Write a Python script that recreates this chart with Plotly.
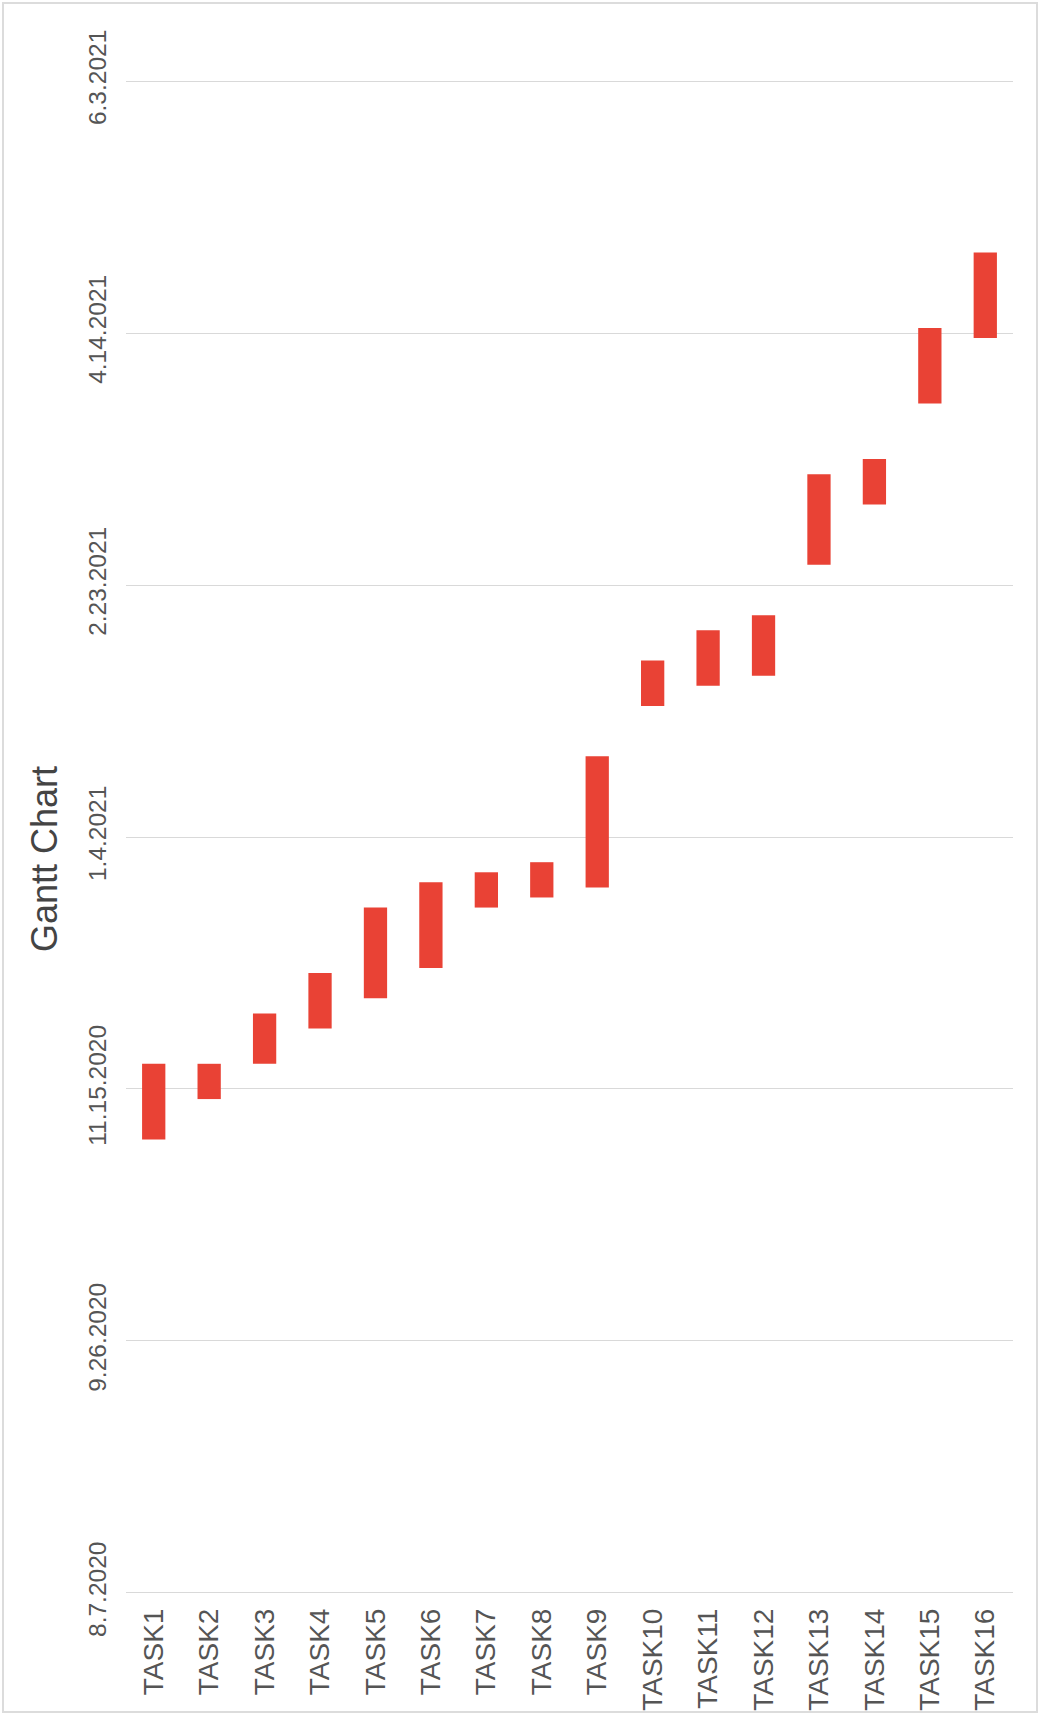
import pandas as pd
import plotly.graph_objects as go

tasks = ["TASK%d" % i for i in range(1, 17)]
start_dates = ["2020-11-05", "2020-11-13", "2020-11-20", "2020-11-27", "2020-12-03", "2020-12-09",
               "2020-12-21", "2020-12-23", "2020-12-25", "2021-01-30", "2021-02-03", "2021-02-05",
               "2021-02-27", "2021-03-11", "2021-03-31", "2021-04-13"]
end_dates = ["2020-11-20", "2020-11-20", "2020-11-30", "2020-12-08", "2020-12-21", "2020-12-26",
             "2020-12-28", "2020-12-30", "2021-01-20", "2021-02-08", "2021-02-14", "2021-02-17",
             "2021-03-17", "2021-03-20", "2021-04-15", "2021-04-30"]
tick_dates = ["2020-08-07", "2020-09-26", "2020-11-15", "2021-01-04", "2021-02-23", "2021-04-14", "2021-06-03"]
tick_labels = ["8.7.2020", "9.26.2020", "11.15.2020", "1.4.2021", "2.23.2021", "4.14.2021", "6.3.2021"]
title_text = "Gantt Chart"

s = pd.to_datetime(start_dates)
e = pd.to_datetime(end_dates)
dur_ms = [(b - a).total_seconds() * 1000 for a, b in zip(s, e)]

W, H = 1040, 1716
L, R, T, B = 126, 27, 76, 118
pw, ph = W - L - R, H - T - B

def px_x(X):
    return (X - L) / pw

def px_y(Y):
    return (H - B - Y) / ph

fig = go.Figure()
fig.add_trace(go.Bar(
    x=tasks, y=dur_ms, base=start_dates, width=0.42,
    marker=dict(color="#e94235", line=dict(width=0)),
    showlegend=False,
))

fig.update_layout(
    width=W, height=H,
    margin=dict(l=L, r=R, t=T, b=B, pad=0, autoexpand=False),
    paper_bgcolor="white", plot_bgcolor="white",
    font=dict(family="Liberation Sans, Arial, sans-serif", color="#555"),
    xaxis=dict(
        type="category", tickangle=-90, showgrid=False, zeroline=False,
        showline=False, ticks="", tickfont=dict(size=28, color="#555"),
        ticklabelstandoff=4, automargin=False,
    ),
    yaxis=dict(
        type="date", range=["2020-08-06", "2021-06-04"],
        tickmode="array", tickvals=tick_dates, ticktext=tick_labels,
        tickangle=-90, showgrid=True, gridcolor="#d9d9d9", gridwidth=1,
        zeroline=False, showline=False, ticks="",
        tickfont=dict(size=24.5, color="#555"), ticklabelstandoff=14,
        automargin=False,
    ),
)

fig.add_annotation(
    text=title_text, textangle=-90, showarrow=False,
    xref="paper", yref="paper", x=px_x(45), y=px_y(859),
    xanchor="center", yanchor="middle",
    font=dict(size=36, color="#444", family="Liberation Sans, Arial, sans-serif"),
)

fig.add_shape(
    type="rect", xref="paper", yref="paper",
    x0=px_x(3), x1=px_x(1037), y0=px_y(1712), y1=px_y(3),
    line=dict(color="#dcdcdc", width=2), fillcolor="rgba(0,0,0,0)", layer="below",
)

fig.write_html("out.html")
